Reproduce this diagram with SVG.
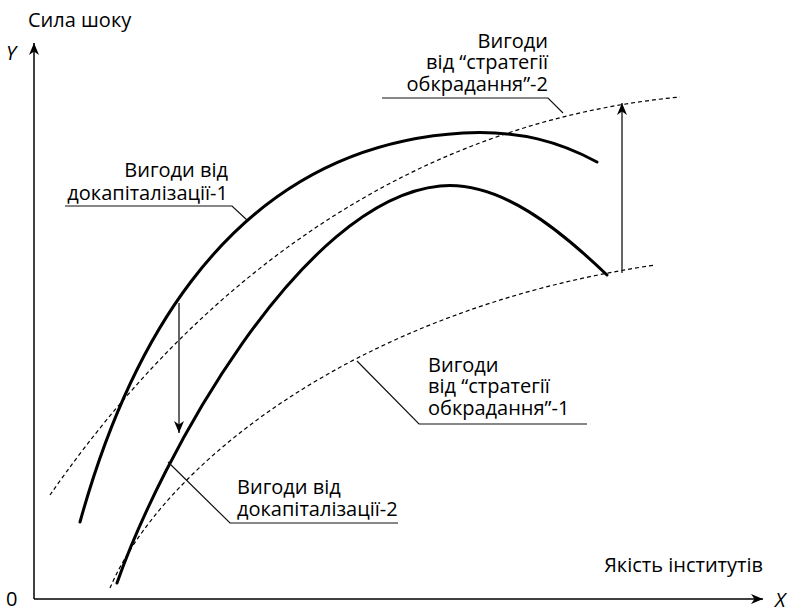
<svg xmlns="http://www.w3.org/2000/svg" width="791" height="613" viewBox="0 0 791 613">
<defs>
<style>
.t{font-family:"Open Sans","Noto Sans","Liberation Sans",sans-serif;font-size:20px;fill:#000}
.i{font-family:"Open Sans","Noto Sans","Liberation Sans",sans-serif;font-size:20px;font-style:italic;fill:#000}
.thick{fill:none;stroke:#000;stroke-width:3;stroke-linecap:round}
.dash{fill:none;stroke:#000;stroke-width:1.2;stroke-dasharray:4 3}
.lead{fill:none;stroke:#111;stroke-width:1.2}
.axis{fill:none;stroke:#000;stroke-width:1.5}
.arr{fill:none;stroke:#333;stroke-width:1.5}
</style>
<marker id="ah" markerUnits="userSpaceOnUse" markerWidth="14" markerHeight="11" refX="12" refY="5" orient="auto" viewBox="0 0 14 11">
<path d="M0,0 L12,5 L0,10 L3.5,5 z" fill="#000"/>
</marker>
</defs>
<rect width="791" height="613" fill="#fff"/>
<g id="axes">
<path class="axis" d="M34,599 L34,43" marker-end="url(#ah)"/>
<path class="axis" d="M34,599 L763,599" marker-end="url(#ah)"/>
<text class="t" x="28" y="27">Сила шоку</text>
<text class="i" x="6" y="60">Y</text>
<text class="t" x="6" y="606">0</text>
<text class="i" x="775" y="607">X</text>
<text class="t" x="763" y="572" text-anchor="end">Якість інститутів</text>
</g>
<g id="curve-dokap-1">
<path class="thick" d="M80,522 C118,385 210,148 463,133 C520,130 560,142 597,162"/>
</g>
<g id="curve-dokap-2">
<path class="thick" d="M117,583 C160,460 300,200 440,186 C500,180 560,230 607,275"/>
</g>
<g id="curve-obkr-2">
<path class="dash" d="M50,495 C130,380 330,130 680,97"/>
</g>
<g id="curve-obkr-1">
<path class="dash" d="M110,588 C160,470 350,310 655,265"/>
</g>
<g id="connectors">
<path class="arr" d="M179,303 L179,433" marker-end="url(#ah)"/>
<path class="arr" d="M622,273 L622,103" marker-end="url(#ah)"/>
<path class="lead" d="M65,206 L232,206 L247,220"/>
<path class="lead" d="M382,98 L548,98 L563,113"/>
<path class="lead" d="M357,361 L419,424 L587,424"/>
<path class="lead" d="M168,462 L230,523 L398,523"/>
</g>
<g id="label-dokap-1">
<text class="t" text-anchor="end"><tspan x="228" y="177">Вигоди від</tspan><tspan x="228" y="200">докапіталізації-1</tspan></text>
</g>
<g id="label-obkr-2">
<text class="t" text-anchor="end"><tspan x="548" y="48">Вигоди</tspan><tspan x="548" y="69">від “стратегії</tspan><tspan x="548" y="91">обкрадання”-2</tspan></text>
</g>
<g id="label-obkr-1">
<text class="t"><tspan x="428" y="372">Вигоди</tspan><tspan x="428" y="393">від “стратегії</tspan><tspan x="428" y="415">обкрадання”-1</tspan></text>
</g>
<g id="label-dokap-2">
<text class="t"><tspan x="237" y="494">Вигоди від</tspan><tspan x="237" y="516">докапіталізації-2</tspan></text>
</g>
</svg>
